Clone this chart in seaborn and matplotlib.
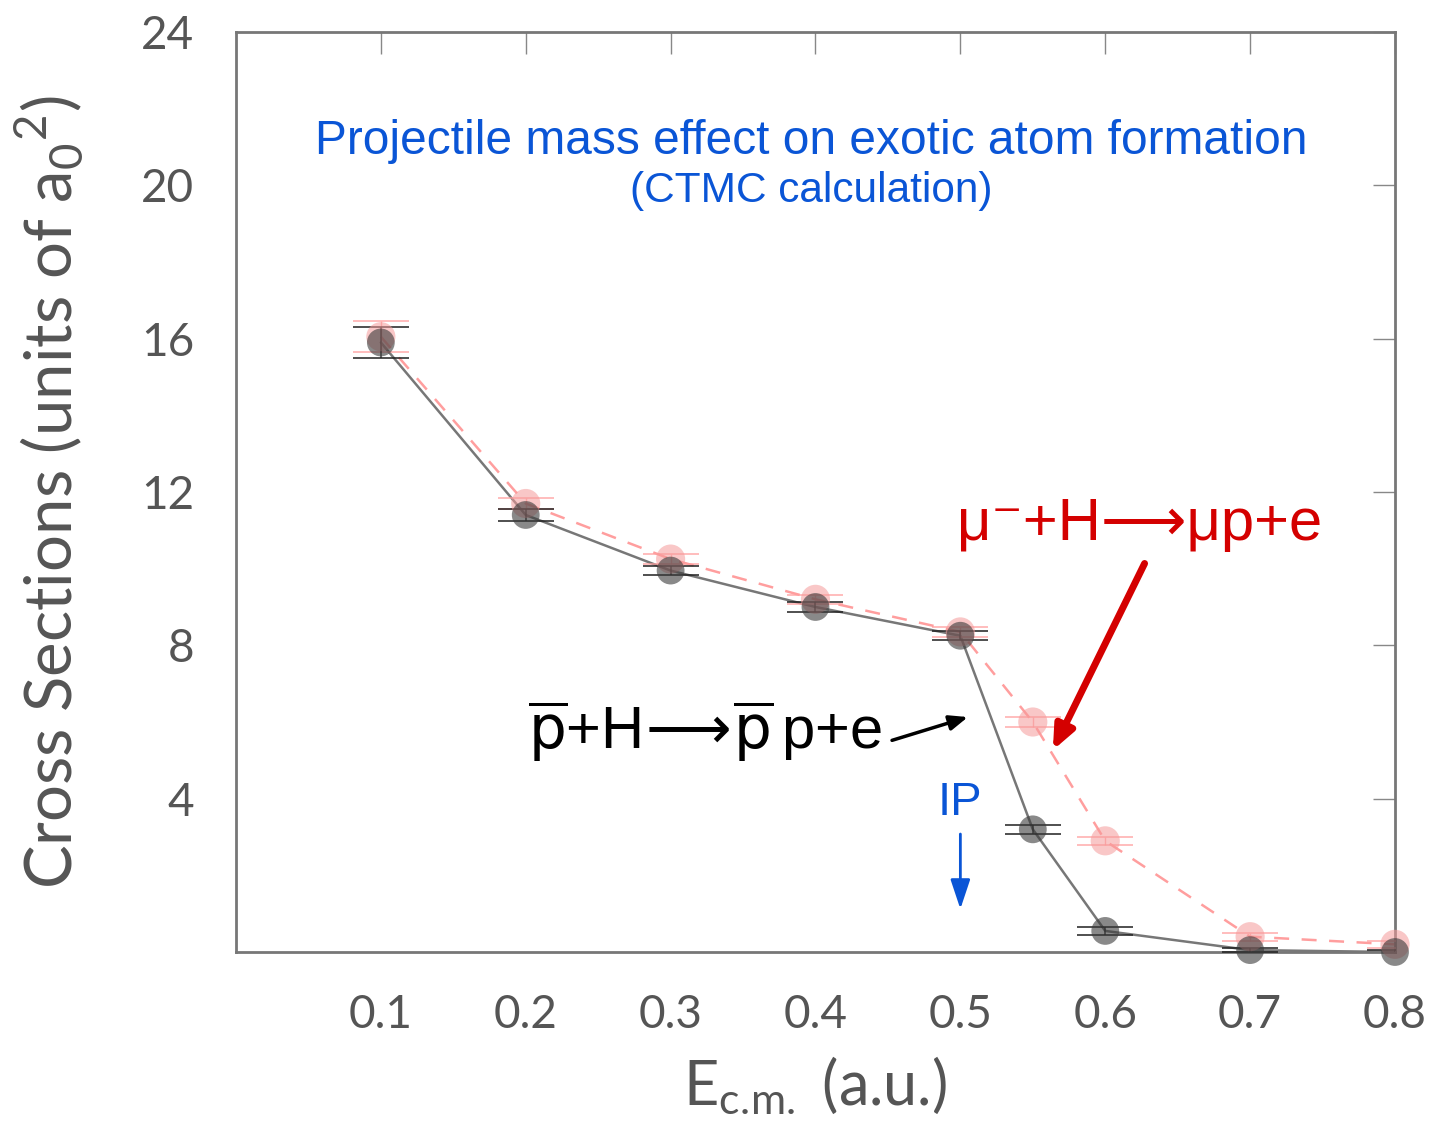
import matplotlib
matplotlib.use('Agg')
import matplotlib.pyplot as plt
import seaborn as sns
import pandas as pd

# energies (a.u.) and CTMC cross sections (a0^2)
energy = [0.1, 0.2, 0.3, 0.4, 0.5, 0.55, 0.6, 0.7, 0.8]
pbar_sigma = [15.9, 11.4, 9.95, 9.0, 8.25, 3.2, 0.55, 0.05, 0.0]
pbar_err = [0.4, 0.15, 0.12, 0.12, 0.12, 0.12, 0.1, 0.05, 0.05]
muon_sigma = [16.05, 11.7, 10.25, 9.2, 8.35, 6.0, 2.9, 0.4, 0.2]
muon_err = [0.4, 0.15, 0.12, 0.12, 0.12, 0.12, 0.1, 0.1, 0.1]

xticks = [0.1, 0.2, 0.3, 0.4, 0.5, 0.6, 0.7, 0.8]
yticks = [4, 8, 12, 16, 20, 24]

df = pd.DataFrame({'E': energy, 'pbar': pbar_sigma, 'muon': muon_sigma})

sns.set_style('white')
plt.rcParams['font.family'] = ['Lato', 'DejaVu Sans']
plt.rcParams['mathtext.fontset'] = 'dejavusans'

fig = plt.figure(figsize=(14.45, 11.37), dpi=100)
ax = fig.add_axes([0.1633, 0.1627, 0.8021, 0.8092])

grey = '#555555'
pink = '#ff9e9e'
blue = '#0a55d6'
sans = ['Liberation Sans', 'DejaVu Sans']

# pink (muon) series
sns.lineplot(data=df, x='E', y='muon', ax=ax, color=pink, lw=1.8,
             linestyle=(0, (6, 5)), zorder=2)
ax.errorbar(energy, muon_sigma, yerr=muon_err, fmt='none', ecolor=pink,
            elinewidth=1, capsize=20, capthick=1.2, alpha=0.8, zorder=3)
sns.scatterplot(data=df, x='E', y='muon', ax=ax, color='#f59a9a', s=440,
                alpha=0.55, edgecolor='none', zorder=4)
ax.collections[-1].set_clip_on(False)

# black (antiproton) series
sns.lineplot(data=df, x='E', y='pbar', ax=ax, color='#777777', lw=1.8, zorder=2)
ax.errorbar(energy, pbar_sigma, yerr=pbar_err, fmt='none', ecolor='#222222',
            elinewidth=1.2, capsize=20, capthick=1.4, alpha=0.8, zorder=3)
sns.scatterplot(data=df, x='E', y='pbar', ax=ax, color='#3a3a3a', s=400,
                alpha=0.6, edgecolor='none', zorder=4)
ax.collections[-1].set_clip_on(False)

ax.set_xlim(0, 0.8)
ax.set_ylim(0, 24)
ax.set_xticks(xticks)
ax.set_xticklabels([f'{t:.1f}' for t in xticks])
ax.set_yticks(yticks)
ax.set_yticklabels([str(t) for t in yticks])
ax.tick_params(direction='in', length=16, width=1, colors='#888888',
               top=True, right=True, labelcolor=grey, labelsize=33, pad=30)
for sp in ax.spines.values():
    sp.set_color('#777777')
    sp.set_linewidth(2)

ax.set_xlabel(r'E$_{\mathregular{c.\!m.}}$ (a.u.)', fontsize=44, color=grey,
              labelpad=14)
ax.set_ylabel(r'Cross Sections (units of a$_{\mathregular{0}}$$^{\mathregular{2}}$)',
              fontsize=47, color=grey, labelpad=40)

ax.text(0.397, 21.15, 'Projectile mass effect on exotic atom formation',
        ha='center', va='center', fontsize=34.5, color=blue, family=sans)
ax.text(0.397, 19.85, '(CTMC calculation)', ha='center', va='center',
        fontsize=30.5, color=blue, family=sans)

ax.text(0.624, 11.15, 'μ\u207b+H\u27f6μp+e', ha='center',
        va='center', fontsize=43, color='#d40000', family=sans)
ax.annotate('', xy=(0.563, 5.2), xytext=(0.628, 10.2),
            arrowprops=dict(arrowstyle='-|>,head_width=0.6,head_length=1.4',
                            color='#d40000', lw=5))

ax.text(0.3235, 5.75,
        r'$\overline{\mathsf{p}}$+H$\!\longrightarrow\!\overline{\mathsf{p}}\,$p+e',
        ha='center', va='center', fontsize=43, color='black', family=sans)
ax.annotate('', xy=(0.507, 6.15), xytext=(0.451, 5.5),
            arrowprops=dict(arrowstyle='-|>,head_width=0.45,head_length=1.1',
                            color='black', lw=2.5))

ax.text(0.5, 3.9, 'IP', ha='center', va='center', fontsize=34, color=blue,
        family=sans)
ax.annotate('', xy=(0.5, 1.05), xytext=(0.5, 3.15),
            arrowprops=dict(arrowstyle='-|>,head_width=0.6,head_length=1.8',
                            color=blue, lw=2))

fig.savefig('out.png', dpi=100)
